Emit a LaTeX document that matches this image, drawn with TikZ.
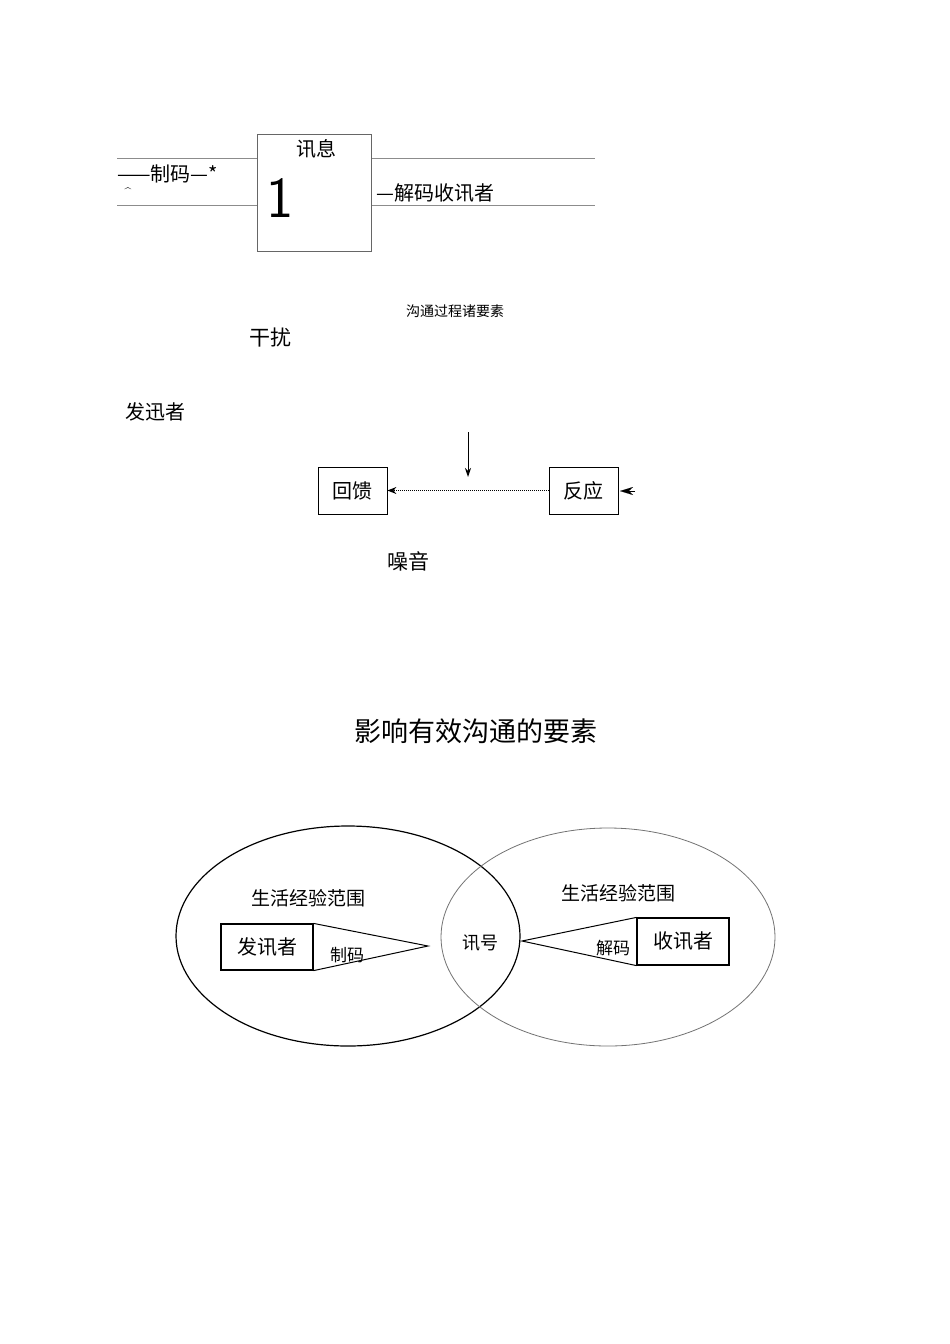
\documentclass[tikz,border=0pt]{standalone}
\usepackage{fontspec}
\newfontfamily\cjk{Noto Sans CJK SC}
\usetikzlibrary{arrows.meta}
\tikzset{
  t/.style={font=\cjk\fontsize{#1}{#1}\selectfont, inner sep=0pt},
  t/.default=20,
  bx/.style={draw, line width=0.8pt, inner sep=0pt},
  hl/.style={draw=black!45, line width=0.8pt}
}
\begin{document}
\begin{tikzpicture}[x=1pt,y=-1pt]
\useasboundingbox[fill=white] (0,0) rectangle (950,1344);
% top part
\coordinate (l1a) at (117,158); \coordinate (l1b) at (595,158);
\coordinate (l2a) at (117,205); \coordinate (l2b) at (595,205);
\draw[hl] (l1a) -- (l1b);
\draw[hl] (l2a) -- (l2b);
\node[t=20] (mt) at (316,262) {媒体};
\node[draw=black!60, fill=white, line width=0.8pt, minimum width=114pt, minimum height=117pt, inner sep=0pt] (msg) at (314,192.5) {};
\node[t=20] (mt) at (316,262) {媒体};
\fill[white] (255,252) rectangle (375,280);
\node[t=20] (xx) at (316,149) {讯息};
\node[font=\sffamily\fontsize{58}{58}\selectfont, inner sep=0pt] (one) at (280,198) {1};
\node[t=20, anchor=west] (enc) at (117,174) {——制码—*};
\node[font=\sffamily\fontsize{12}{12}\selectfont, inner sep=0pt] (caret) at (128,192) {\textasciicircum};
\node[t=20, anchor=west] (dec) at (376,193) {—解码收讯者};
\node[t=14] (cap) at (455,311) {沟通过程诸要素};
\node[t=21] (gr) at (270,338) {干扰};
\node[t=20] (fx) at (155,412) {发迅者};
% feedback
\node[bx, minimum width=69pt, minimum height=47pt, t=20, draw] (fk) at (352.5,490.5) {回馈};
\node[bx, minimum width=69pt, minimum height=47pt, t=20, draw] (fy) at (583.5,490.5) {反应};
\coordinate (ta) at (468,432); \coordinate (tb) at (468,477);
\draw[line width=1pt, -{Stealth[length=9pt,width=6pt]}] (ta) -- (tb);
\draw[densely dotted, line width=1pt, -{Stealth[length=9pt,width=7pt]}] (fy.west) -- (fk.east);
\coordinate (ra) at (635,491); \coordinate (rb) at (620,491);
\draw[line width=0.1pt, -{Stealth[length=13pt,width=8pt]}] (ra) -- (rb);
\node[t=21] (zy) at (408,561) {噪音};
\node[t=27] (title) at (476,731) {影响有效沟通的要素};
% venn
\draw[line width=1.2pt] (348,936) ellipse [x radius=172, y radius=110];
\draw[black!55, line width=0.8pt] (608,937) ellipse [x radius=167, y radius=109];
\node[t=19] (s1) at (308,898) {生活经验范围};
\node[t=19] (s2) at (618,893) {生活经验范围};
\node[bx, line width=1.2pt, minimum width=92pt, minimum height=46pt, t=20] (fs) at (267,947) {发讯者};
\node[bx, line width=1.2pt, minimum width=92pt, minimum height=47pt, t=20] (sx) at (683,941.5) {收讯者};
\coordinate (p1) at (428,946);
\coordinate (p2) at (522,941);
\draw[line width=1pt] (fs.north east) -- (p1) -- (fs.south east);
\draw[line width=1pt] (sx.north west) -- (p2) -- (sx.south west);
\node[t=17] (zm) at (347,955) {制码};
\node[t=18] (xh) at (480,943) {讯号};
\node[t=17] (jm) at (613,948) {解码};
\end{tikzpicture}
\end{document}
